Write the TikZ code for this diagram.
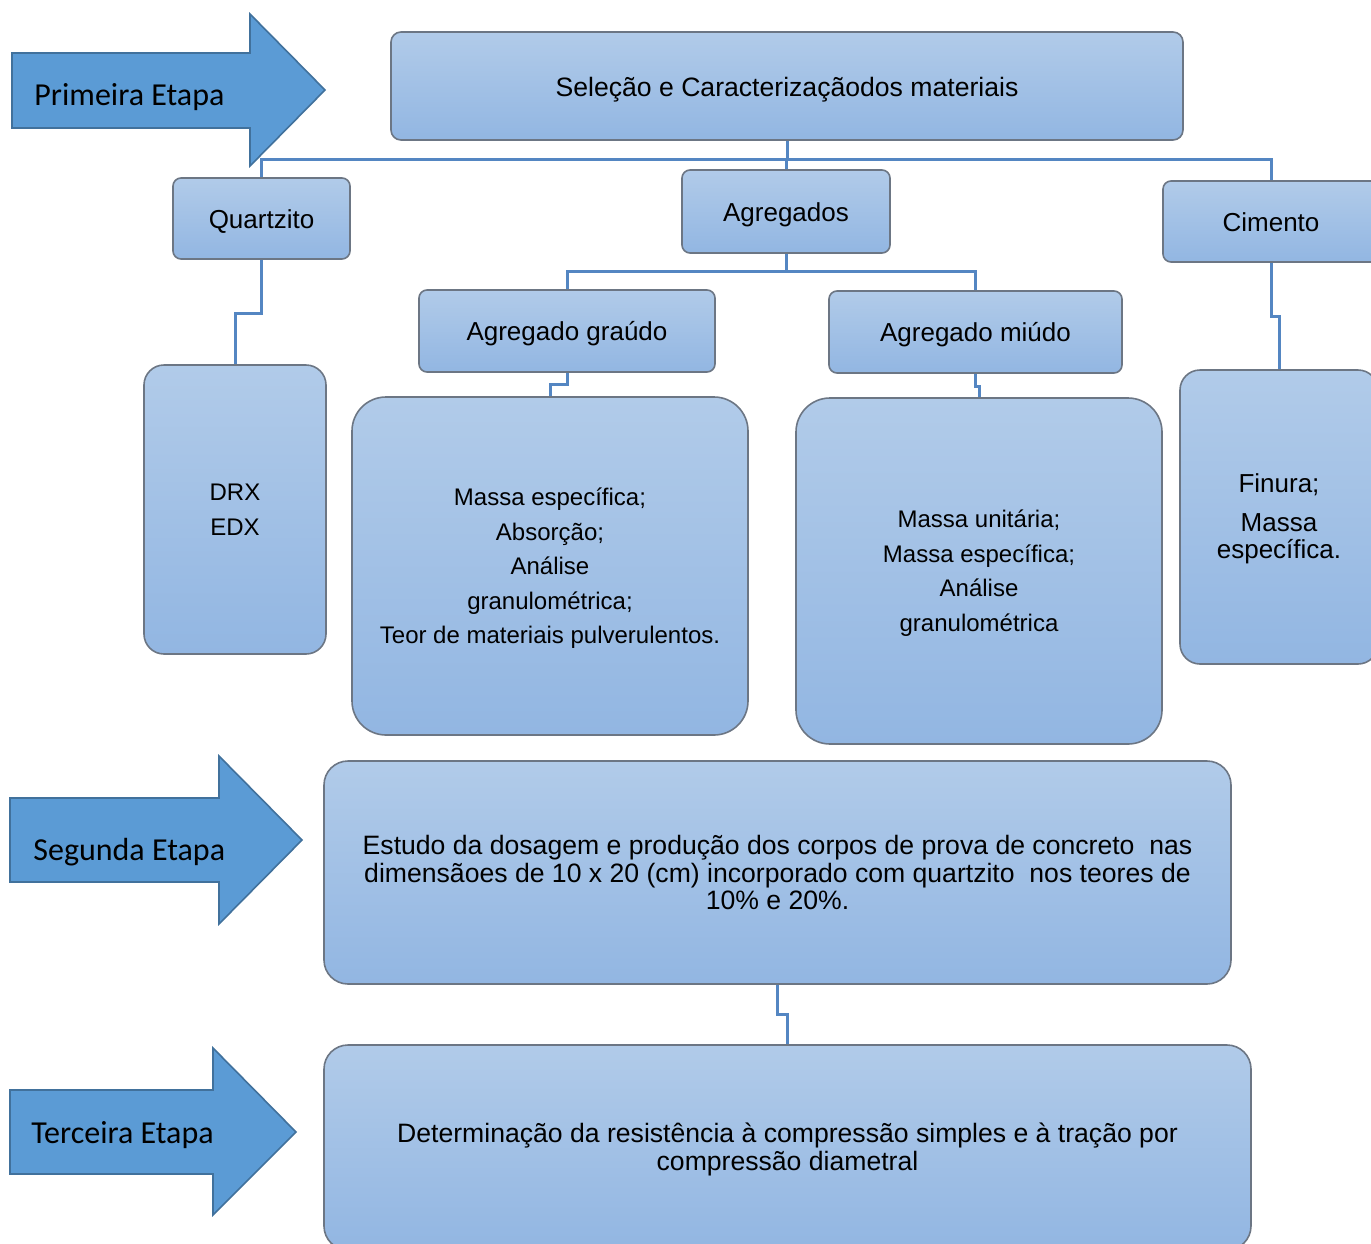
\documentclass[tikz,border=0pt]{standalone}
\usepackage{fontspec}
\setmainfont{Liberation Sans}
\newfontfamily\calib{Carlito}
\definecolor{boxtop}{RGB}{177,203,233}
\definecolor{boxbot}{RGB}{146,182,226}
\definecolor{boxline}{RGB}{108,118,132}
\definecolor{conn}{RGB}{84,134,194}
\definecolor{arrfill}{RGB}{91,155,213}
\definecolor{arrline}{RGB}{65,113,156}
\newcommand{\lstrut}[1]{\rule{0pt}{#1}}
\begin{document}
\begin{tikzpicture}[x=0.5pt,y=-0.5pt,
  box/.style={draw=boxline, line width=0.8pt, top color=boxtop, bottom color=boxbot,
    rounded corners=#1, inner sep=0pt, align=center},
  box/.default=4pt,
  fs/.style={font=\fontsize{13}{14}\selectfont, text height=12pt, text depth=2.2pt},
  fsmall/.style={font=\fontsize{12}{17.25}\selectfont},
  connector/.style={draw=conn, line width=1.5pt},
  bigarrow/.style={fill=arrfill, draw=arrline, line width=0.8pt, line join=miter},
  arrlbl/.style={font=\calib\fontsize{16}{18}\selectfont, inner sep=0pt, anchor=base west}]
\useasboundingbox (0,0) rectangle (1371,1243);
\clip (0,0) rectangle (1371,1243);

% stage arrows
\draw[bigarrow] (12,53) -- (250,53) -- (250,14) -- (325,90) -- (250,166) -- (250,128) -- (12,128) -- cycle;
\node[arrlbl] (l1) at (34,105) {Primeira Etapa};
\draw[bigarrow] (10,798) -- (219,798) -- (219,756) -- (302,840) -- (219,924) -- (219,882) -- (10,882) -- cycle;
\node[arrlbl] (l2) at (33,860) {Segunda Etapa};
\draw[bigarrow] (10,1090) -- (213,1090) -- (213,1048) -- (296,1132) -- (213,1215) -- (213,1174) -- (10,1174) -- cycle;
\node[arrlbl] (l3) at (31,1143) {Terceira Etapa};

% boxes
\node[box=5pt, font=\fontsize{13.3}{14}\selectfont, text height=12.8pt, text depth=2.3pt, minimum width=396pt, minimum height=54pt] (top) at (787,86) {Seleção e Caracterizaçãodos materiais};
\node[box, fs, minimum width=88.5pt, minimum height=40.5pt] (quartz) at (261.5,218.5) {Quartzito};
\node[box, fs, minimum width=104pt, minimum height=41.5pt] (agreg) at (786,211.5) {Agregados};
\node[box, fs, minimum width=108pt, minimum height=40.5pt] (cim) at (1271,221.5) {Cimento};
\node[box, fs, minimum width=148pt, minimum height=41pt] (graudo) at (567,331) {Agregado graúdo};
\node[box, fs, minimum width=146.5pt, minimum height=41pt] (miudo) at (975.5,332) {Agregado miúdo};

\node[box=10pt, font=\fontsize{12}{17.5}\selectfont, minimum width=91pt, minimum height=144.5pt] (drx) at (235,509.5) {DRX\\EDX};
\node[box=17pt, fsmall, minimum width=198pt, minimum height=169pt] (gdet) at (550,566) {\lstrut{11pt}Massa específica;\\Absorção;\\Análise\\granulométrica;\\Teor de materiais pulverulentos.};
\node[box=17pt, fsmall, minimum width=183pt, minimum height=173pt] (mdet) at (979,571) {\lstrut{11pt}Massa unitária;\\Massa específica;\\Análise\\granulométrica};
\node[box=10pt, font=\fontsize{13}{13.5}\selectfont, minimum width=99pt, minimum height=147pt] (cdet) at (1279,517) {\lstrut{11.5pt}Finura;\\[6pt]Massa\\específica.};

\node[box=12pt, font=\fontsize{13.3}{13.75}\selectfont, minimum width=453.5pt, minimum height=111.5pt] (seg) at (777.5,872.5) {Estudo da dosagem e produção dos corpos de prova de concreto~ nas\\dimensãoes de 10 x 20 (cm) incorporado com quartzito~ nos teores de\\10\% e 20\%.};
\node[box=12pt, font=\fontsize{13.3}{14}\selectfont, minimum width=463.5pt, minimum height=102.5pt] (ter) at (787.5,1147.5) {\lstrut{12pt}Determinação da resistência à compressão simples e à tração por\\compressão diametral};

% connectors
\coordinate (bus1) at (787,159);
\draw[connector] (top.south) -- (bus1);
\draw[connector] (bus1) -| (quartz.north);
\draw[connector] (bus1) -| (cim.north);
\draw[connector] (bus1) -| (agreg.north);
\coordinate (bus2) at (786,271);
\draw[connector] (agreg.south) -- (bus2);
\draw[connector] (bus2) -| (graudo.north);
\draw[connector] (bus2) -| (miudo.north);
\draw[connector] (quartz.south) -- ++(0,54) -| (drx.north);
\draw[connector] (graudo.south) -- ++(0,12) -| (gdet.north);
\draw[connector] (miudo.south) -- ++(0,13) -| (mdet.north);
\draw[connector] (cim.south) -- ++(0,54) -| (cdet.north);
\draw[connector] (seg.south) -- ++(0,30) -| (ter.north);
\end{tikzpicture}
\end{document}
